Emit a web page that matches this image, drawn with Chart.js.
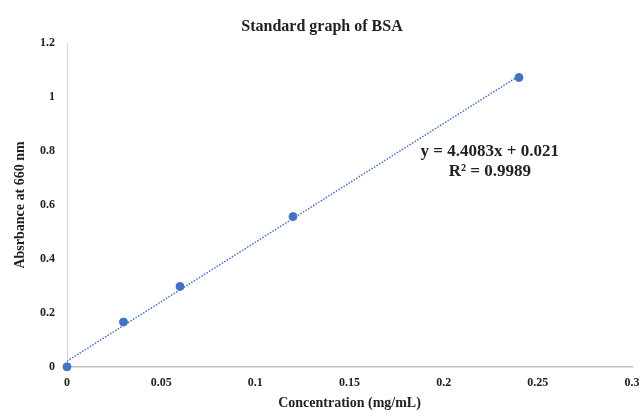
<!DOCTYPE html>
<html lang="en">
<head>
    <meta charset="UTF-8">
    <title>Standard graph of BSA</title>
    <script src="https://cdn.jsdelivr.net/npm/chart.js"></script>
    <style>
        body { margin: 0; background: #fff; }
        #wrap { width: 643px; height: 412px; }
    </style>
</head>
<body>
    <div id="wrap"><canvas id="bsaChart"></canvas></div>

    <script>
        // data
        const concentration = [0, 0.03, 0.06, 0.12, 0.24];
        const absorbance = [0, 0.166, 0.298, 0.557, 1.073];
        // trendline end points (y = 4.4083x + 0.021)
        const trendX = [0, 0.24];
        const trendY = [0.021, 1.079];
        const equationLines = ["y = 4.4083x + 0.021", "R\u00b2 = 0.9989"];
        const equationPos = { x: 0.2245, y: 0.798 };

        const serif = "'Liberation Serif', 'Times New Roman', serif";
        const blue = "#4472C4";
        const trim = v => String(Number(v.toFixed(2)));

        // draws the trendline equation next to the line
        const equationLabel = {
            id: "equationLabel",
            afterDatasetsDraw(chart) {
                let ctx = chart.ctx;
                let px = chart.scales.x.getPixelForValue(equationPos.x);
                let py = chart.scales.y.getPixelForValue(equationPos.y);
                ctx.save();
                ctx.fillStyle = "#222";
                ctx.font = "bold 17px " + serif;
                ctx.textAlign = "center";
                ctx.textBaseline = "middle";
                equationLines.forEach((t, i) => ctx.fillText(t, px, py + i * 20));
                ctx.restore();
            }
        };

        new Chart(document.getElementById("bsaChart").getContext("2d"), {
            type: "scatter",
            data: {
                datasets: [
                    {
                        label: "Absorbance",
                        data: concentration.map((c, i) => ({ x: c, y: absorbance[i] })),
                        backgroundColor: blue,
                        borderColor: blue,
                        pointRadius: 4,
                        clip: false,
                        order: 1
                    },
                    {
                        label: "Linear",
                        type: "line",
                        data: trendX.map((c, i) => ({ x: c, y: trendY[i] })),
                        borderColor: blue,
                        borderWidth: 1.5,
                        borderDash: [1.5, 1.5],
                        pointRadius: 0,
                        fill: false,
                        order: 2
                    }
                ]
            },
            options: {
                responsive: true,
                maintainAspectRatio: false,
                animation: false,
                layout: { padding: { left: 12, right: 11, top: 0, bottom: 0 } },
                plugins: {
                    legend: { display: false },
                    tooltip: { enabled: false },
                    title: {
                        display: true,
                        text: "Standard graph of BSA",
                        color: "#222",
                        font: { family: serif, size: 16, weight: "bold" },
                        padding: { top: 17, bottom: 7 }
                    }
                },
                scales: {
                    x: {
                        type: "linear",
                        min: 0,
                        max: 0.3,
                        ticks: {
                            stepSize: 0.05,
                            color: "#222",
                            font: { family: serif, size: 12, weight: "bold" },
                            padding: 1,
                            callback: v => trim(v)
                        },
                        grid: { display: false },
                        border: { color: "#bfbfbf", width: 1.5 },
                        title: {
                            display: true,
                            text: "Concentration (mg/mL)",
                            color: "#222",
                            font: { family: serif, size: 14, weight: "bold" },
                            padding: { top: 4, bottom: 0 }
                        }
                    },
                    y: {
                        min: 0,
                        max: 1.2,
                        afterFit: s => { s.width = 55; },
                        ticks: {
                            stepSize: 0.2,
                            color: "#222",
                            font: { family: serif, size: 12, weight: "bold" },
                            padding: 4,
                            callback: v => trim(v)
                        },
                        grid: { display: false },
                        border: { color: "#d9d9d9", width: 1 },
                        title: {
                            display: true,
                            text: "Absrbance at 660 nm",
                            color: "#222",
                            font: { family: serif, size: 14, weight: "bold" },
                            padding: { top: 0, bottom: 8 }
                        }
                    }
                }
            },
            plugins: [equationLabel]
        });
    </script>
</body>
</html>
